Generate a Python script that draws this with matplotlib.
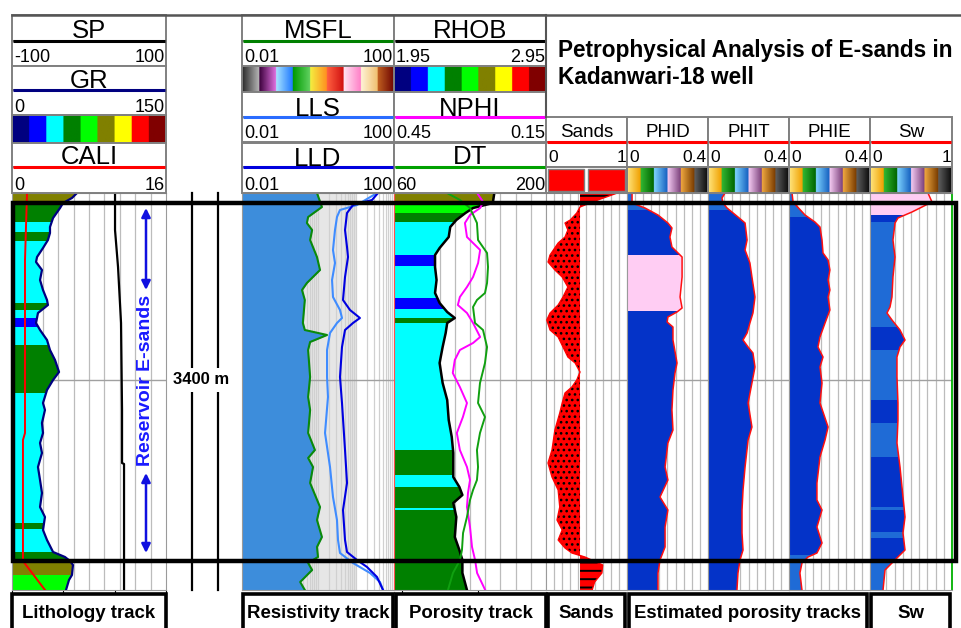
import numpy as np
import matplotlib.pyplot as plt
import matplotlib.transforms as mtransforms
from matplotlib.patches import Rectangle, Polygon
from matplotlib.colors import ListedColormap, LinearSegmentedColormap

plt.rcParams['font.family'] = ['Liberation Sans', 'DejaVu Sans']

W, H = 962, 628
TOP, BASE = 3381.3, 3421.0          # depth window of the log body (m)
RES_TOP, RES_BASE = 3382.3, 3418.1  # E-sands reservoir interval (m)
MARKER = 3400.0
SAND_CUT = 0.42

# ---------------- lithology track ----------------
gr_depth = [3381.3, 3381.8, 3382.3, 3382.8, 3383.8, 3384.7, 3385.3, 3386.0, 3386.8, 3387.7,
            3388.2, 3389.0, 3390.0, 3391.0, 3392.0, 3392.5, 3393.3, 3394.3, 3395.0, 3396.0,
            3397.0, 3398.0, 3399.2, 3400.0, 3401.0, 3402.3, 3403.0, 3404.3, 3405.3, 3406.3,
            3407.3, 3408.7, 3410.0, 3411.3, 3412.7, 3413.7, 3415.0, 3416.0, 3417.2, 3417.7,
            3418.1, 3418.5, 3419.5, 3420.0, 3421.0]
gr = [63.3, 58.4, 49.7, 46.8, 40.0, 37.0, 37.0, 35.0, 30.2, 24.4,
      23.4, 29.2, 27.3, 30.2, 34.1, 35.0, 25.3, 23.4, 27.3, 34.1,
      37.0, 41.9, 45.8, 40.0, 34.1, 30.2, 32.1, 29.2, 30.2, 27.3,
      29.2, 25.3, 27.3, 29.2, 27.3, 32.1, 30.2, 34.1, 40.0, 51.6,
      56.5, 59.4, 58.4, 55.5, 52.6]
sp_depth = [3381.3, 3385.0, 3388.7, 3394.3, 3403.0, 3408.3, 3408.4, 3421.0]
sp = [33.8, 33.8, 37.7, 41.6, 42.9, 42.9, 45.5, 45.5]
cali_depth = [3381.3, 3388.0, 3405.3, 3406.0, 3418.1, 3421.0]
cali = [1.56, 1.35, 1.35, 1.14, 1.14, 3.43]

# lithology bands, coded by the GR colour scale index
lith_top = [3381.3, 3382.3, 3384.2, 3385.2, 3386.1, 3392.3, 3393.0, 3393.8, 3394.7, 3396.5,
            3401.3, 3414.3, 3414.9, 3417.2, 3418.3, 3419.5]
lith_code = [5, 3, 2, 3, 2, 3, 2, 1, 2, 3, 2, 3, 2, 3, 5, 4]

# ---------------- resistivity track ----------------
msfl_depth = [3381.3, 3382.7, 3383.7, 3384.3, 3385.0, 3386.0, 3387.7, 3389.0, 3390.3, 3391.0,
              3392.0, 3394.3, 3395.0, 3395.5, 3396.2, 3397.0, 3399.7, 3401.7, 3403.0, 3405.3,
              3407.0, 3407.8, 3408.7, 3410.3, 3412.7, 3414.0, 3415.7, 3416.7, 3417.7, 3418.3,
              3419.0, 3420.2, 3421.0]
msfl = [0.94, 1.27, 0.55, 0.51, 0.70, 0.62, 0.94, 1.13, 0.51, 0.38,
        0.45, 0.40, 0.45, 1.73, 0.62, 0.55, 0.62, 0.55, 0.62, 0.55,
        0.83, 0.55, 0.74, 0.62, 1.13, 0.94, 1.27, 0.94, 1.00, 0.55,
        0.70, 0.34, 0.45]
lls_depth = [3381.3, 3382.5, 3383.0, 3383.7, 3385.0, 3387.0, 3388.3, 3390.0, 3391.7, 3393.0,
             3393.8, 3394.3, 3395.3, 3397.0, 3399.7, 3401.7, 3405.3, 3408.7, 3411.7, 3414.0,
             3416.0, 3417.3, 3418.3, 3419.3, 3420.2, 3421.0]
lls = [35.7, 10.6, 3.79, 3.16, 2.80, 2.48, 2.80, 2.34, 2.48, 3.79,
       4.28, 3.16, 2.07, 1.73, 1.73, 1.83, 1.53, 2.07, 2.48, 3.16,
       3.36, 3.79, 8.33, 23.4, 42.8, 51.4]
lld_depth = [3381.3, 3382.0, 3382.5, 3383.3, 3385.0, 3386.7, 3387.7, 3389.7, 3392.0, 3393.0,
             3393.8, 3394.3, 3395.0, 3396.7, 3399.7, 3402.3, 3407.0, 3410.3, 3413.0, 3416.0,
             3417.2, 3418.0, 3418.7, 3419.7, 3421.0]
lld = [38.0, 26.4, 8.33, 5.80, 5.14, 5.80, 6.16, 5.14, 4.55, 6.95,
       12.7, 8.33, 5.14, 4.28, 3.79, 4.28, 5.14, 5.80, 4.55, 5.14,
       5.80, 10.6, 19.5, 35.7, 51.4]

# ---------------- porosity track ----------------
rhob_depth = [3381.3, 3382.3, 3382.8, 3383.3, 3384.0, 3384.7, 3385.7, 3386.8, 3387.5, 3388.7,
              3390.0, 3391.3, 3392.3, 3393.2, 3393.8, 3394.3, 3395.3, 3396.7, 3398.3, 3400.3,
              3402.0, 3404.0, 3405.7, 3407.3, 3409.7, 3410.7, 3411.5, 3412.3, 3413.7, 3415.7,
              3417.0, 3418.0, 3419.3, 3421.0]
rhob = [2.61, 2.60, 2.47, 2.42, 2.36, 2.32, 2.31, 2.25, 2.22, 2.22,
        2.23, 2.22, 2.25, 2.30, 2.35, 2.30, 2.29, 2.27, 2.25, 2.27,
        2.30, 2.31, 2.33, 2.34, 2.34, 2.38, 2.40, 2.34, 2.36, 2.35,
        2.38, 2.40, 2.40, 2.43]
rhob_top = [3381.3, 3382.3, 3383.3, 3384.2, 3387.5, 3388.6, 3391.8, 3392.9, 3393.8, 3394.3,
            3407.0, 3409.5, 3410.7, 3412.8, 3413.0]
rhob_code = [5, 4, 3, 2, 1, 2, 1, 2, 3, 2, 3, 2, 3, 2, 3]
nphi_depth = [3381.3, 3382.2, 3382.8, 3383.5, 3384.3, 3385.7, 3386.3, 3387.0, 3388.3, 3389.7,
              3390.7, 3391.7, 3392.5, 3393.3, 3394.3, 3395.7, 3396.3, 3397.0, 3398.0, 3399.3,
              3400.7, 3402.3, 3403.7, 3405.3, 3407.0, 3408.7, 3410.0, 3411.3, 3412.7, 3414.7,
              3416.7, 3418.0, 3419.3, 3421.0]
nphi = [0.286, 0.274, 0.280, 0.300, 0.310, 0.306, 0.294, 0.280, 0.284, 0.294,
        0.306, 0.320, 0.324, 0.306, 0.294, 0.280, 0.294, 0.320, 0.330, 0.334,
        0.320, 0.306, 0.314, 0.326, 0.320, 0.306, 0.300, 0.304, 0.306, 0.300,
        0.296, 0.290, 0.286, 0.270]
dt_depth = [3381.3, 3382.0, 3382.8, 3384.3, 3386.0, 3387.3, 3388.7, 3390.3, 3391.3, 3392.0,
            3392.7, 3394.3, 3395.0, 3396.7, 3398.3, 3400.3, 3402.3, 3403.7, 3405.3, 3407.0,
            3408.7, 3410.0, 3411.0, 3412.0, 3413.7, 3415.3, 3417.0, 3418.0, 3419.3, 3421.0]
dt = [108.8, 120.8, 130.0, 136.4, 137.4, 145.7, 146.6, 145.7, 143.8, 136.4,
      132.8, 134.6, 142.0, 145.7, 143.8, 139.2, 137.4, 143.8, 139.2, 136.4,
      137.4, 136.4, 132.8, 130.0, 127.2, 123.6, 122.6, 120.8, 114.3, 109.7]

# ---------------- sands ----------------
sand_depth = [3381.3, 3382.0, 3382.5, 3382.7, 3383.3, 3384.0, 3384.3, 3385.0, 3385.7, 3386.3,
              3387.5, 3388.2, 3389.0, 3389.7, 3390.7, 3391.7, 3392.5, 3393.3, 3394.0, 3395.0,
              3395.7, 3396.7, 3397.7, 3398.3, 3399.2, 3400.0, 3400.7, 3401.3, 3402.3, 3403.3,
              3405.0, 3407.0, 3408.3, 3409.7, 3411.0, 3412.7, 3414.0, 3415.0, 3416.0, 3416.8,
              3417.3, 3417.7, 3418.5, 3419.3, 3420.2, 3421.0]
sand = [0.88, 0.64, 0.48, 0.42, 0.38, 0.30, 0.235, 0.27, 0.235, 0.15,
        0.05, 0.025, 0.11, 0.20, 0.27, 0.21, 0.15, 0.05, 0.01, 0.05,
        0.15, 0.21, 0.27, 0.36, 0.42, 0.38, 0.32, 0.235, 0.20, 0.17,
        0.11, 0.074, 0.025, 0.074, 0.15, 0.17, 0.136, 0.20, 0.15, 0.235,
        0.32, 0.48, 0.70, 0.69, 0.60, 0.57]

# ---------------- estimated porosity / saturation ----------------
phid_depth = [3381.3, 3382.3, 3382.8, 3383.5, 3384.3, 3384.8, 3385.7, 3386.7, 3387.7, 3389.7,
              3391.7, 3392.8, 3393.2, 3393.7, 3394.2, 3394.7, 3396.0, 3398.3, 3399.3, 3401.0,
              3403.0, 3405.0, 3406.3, 3408.7, 3410.0, 3411.7, 3413.0, 3414.7, 3416.7, 3418.0,
              3419.3, 3421.0]
phid = [0.025, 0.025, 0.089, 0.153, 0.202, 0.222, 0.212, 0.222, 0.272, 0.272,
        0.262, 0.272, 0.247, 0.202, 0.198, 0.227, 0.227, 0.247, 0.237, 0.227,
        0.222, 0.227, 0.202, 0.188, 0.202, 0.163, 0.202, 0.188, 0.188, 0.163,
        0.153, 0.153]
phid_top = [3381.3, 3383.0, 3387.5, 3393.1]
phid_zone = ['light', 'dark', 'pink', 'dark']

phit_depth = [3381.3, 3381.8, 3382.3, 3382.8, 3383.7, 3384.3, 3386.0, 3387.0, 3388.3, 3389.7,
              3391.7, 3393.3, 3394.3, 3395.3, 3396.0, 3396.7, 3397.3, 3398.7, 3400.3, 3402.3,
              3404.7, 3406.0, 3408.7, 3411.0, 3413.0, 3415.3, 3417.0, 3418.0, 3419.3, 3421.0]
phit = [0.084, 0.069, 0.074, 0.094, 0.148, 0.183, 0.193, 0.183, 0.207, 0.217,
        0.232, 0.222, 0.207, 0.193, 0.173, 0.198, 0.222, 0.232, 0.217, 0.198,
        0.217, 0.198, 0.183, 0.173, 0.168, 0.168, 0.173, 0.158, 0.148, 0.143]
phit_top = [3381.3, 3383.0]
phit_zone = ['light', 'dark']

phie_depth = [3381.3, 3382.2, 3383.5, 3384.2, 3384.7, 3386.0, 3387.3, 3388.0, 3389.0, 3390.0,
              3391.0, 3391.7, 3393.0, 3394.3, 3395.7, 3396.7, 3397.7, 3398.7, 3400.3, 3402.3,
              3404.7, 3406.0, 3407.7, 3410.3, 3412.0, 3413.0, 3414.7, 3416.3, 3417.3, 3417.7,
              3418.3, 3419.3, 3421.0]
phie = [0.015, 0.020, 0.079, 0.128, 0.153, 0.163, 0.168, 0.193, 0.202, 0.193,
        0.202, 0.193, 0.202, 0.178, 0.153, 0.143, 0.168, 0.153, 0.163, 0.153,
        0.193, 0.178, 0.153, 0.138, 0.138, 0.163, 0.138, 0.163, 0.138, 0.094,
        0.064, 0.054, 0.064]
phie_top = [3381.3, 3383.7, 3417.5]
phie_zone = ['light', 'dark', 'light']

sw_depth = [3381.3, 3382.2, 3383.2, 3383.8, 3384.3, 3386.0, 3387.7, 3389.7, 3391.7, 3392.7,
            3393.3, 3394.0, 3395.0, 3396.0, 3396.7, 3397.7, 3399.7, 3402.3, 3404.0, 3406.3,
            3408.7, 3410.7, 3413.7, 3415.3, 3417.0, 3417.7, 3418.3, 3419.0, 3421.0]
sw = [0.707, 0.756, 0.512, 0.341, 0.305, 0.280, 0.305, 0.280, 0.268, 0.244,
      0.207, 0.268, 0.366, 0.427, 0.366, 0.329, 0.329, 0.341, 0.341, 0.329,
      0.366, 0.390, 0.427, 0.402, 0.427, 0.341, 0.268, 0.183, 0.159]
sw_top = [3381.3, 3383.5, 3384.2, 3394.7, 3397.0, 3402.0, 3404.3, 3407.7, 3412.7, 3413.0,
          3415.2, 3415.8, 3418.0]
sw_zone = ['pink', 'dark', 'light', 'dark', 'light', 'dark', 'light', 'dark', 'light', 'dark',
           'light', 'dark', 'light']

# colours
PALETTE = ['#000080', '#0000ff', '#00ffff', '#008000', '#00ff00',
           '#808000', '#ffff00', '#ff0000', '#800000']
ZONE = {'dark': '#0433c8', 'light': '#1f6bd6', 'pink': '#ffcdf3'}
GRID = '#bcbcbc'

fig = plt.figure(figsize=(W / 100, H / 100), dpi=100)


def frame(x0, y0, x1, y1):
    return [x0 / W, 1 - y1 / H, (x1 - x0) / W, (y1 - y0) / H]


def track(x0, x1, lo, hi, log=False):
    ax = fig.add_axes(frame(x0, 193, x1, 590))
    if log:
        ax.set_xscale('log')
    ax.set_xlim(lo, hi)
    ax.set_ylim(BASE, TOP)
    ax.tick_params(which='both', bottom=False, left=False, top=False, right=False,
                   labelbottom=False, labelleft=False)
    for s in ax.spines.values():
        s.set_color('#9a9a9a')
        s.set_linewidth(0.8)
    if log:
        grid = [m * 10.0 ** e for e in range(-2, 2) for m in range(1, 10)][1:]
        gcol = '#d0d0d0'
    else:
        grid = np.linspace(lo, hi, 11)[1:-1]
        gcol = GRID
    for g in grid:
        ax.axvline(g, color=gcol, lw=0.9, zorder=0.8)
    ax.axhline(MARKER, color='#a0a0a0', lw=1.0, zorder=0.8)
    return ax


def twin(ax, lo, hi):
    t = ax.twiny()
    t.set_xlim(lo, hi)
    t.set_ylim(BASE, TOP)
    t.axis('off')
    return t


def zone_fill(ax, depth, values, base, tops, colors):
    depth = np.asarray(depth, float)
    values = np.asarray(values, float)
    xs = np.r_[base, values, base]
    ys = np.r_[depth[0], depth, depth[-1]]
    clip = Polygon(np.column_stack([xs, ys]), closed=True, transform=ax.transData)
    bases = list(tops[1:]) + [BASE]
    for t, b, c in zip(tops, bases, colors):
        band = ax.axhspan(t, b, facecolor=c, edgecolor='none', zorder=1)
        band.set_clip_path(clip)


# lithology
ax_lith = track(12, 166, 0, 150)
zone_fill(ax_lith, gr_depth, gr, 0, lith_top, [PALETTE[c] for c in lith_code])
ax_lith.plot(gr, gr_depth, color='#000080', lw=1.6, zorder=3)
twin(ax_lith, -100, 100).plot(sp, sp_depth, color='black', lw=1.6)
twin(ax_lith, 0, 16).plot(cali, cali_depth, color='red', lw=1.4)

# resistivity
ax_res = track(242, 394, 0.01, 100, log=True)
ax_res.fill_betweenx(msfl_depth, msfl, 10, color='#e6e6e6', lw=0, zorder=0.5)
ax_res.fill_betweenx(msfl_depth, 0.01, msfl, color='#3d8ddb', lw=0, zorder=2)
ax_res.plot(msfl, msfl_depth, color='#0a8a0a', lw=1.5, zorder=3)
ax_res.plot(lls, lls_depth, color='#3f8cff', lw=1.5, zorder=3)
ax_res.plot(lld, lld_depth, color='#0000e0', lw=1.5, zorder=3)

# porosity
ax_por = track(394, 546, 1.95, 2.95)
ax_por.spines['left'].set_color('#ff5050')
zone_fill(ax_por, rhob_depth, rhob, 1.95, rhob_top, [PALETTE[c] for c in rhob_code])
ax_por.plot(rhob, rhob_depth, color='black', lw=1.8, zorder=3)
twin(ax_por, 0.45, 0.15).plot(nphi, nphi_depth, color='#ff00ff', lw=1.4)
twin(ax_por, 60, 200).plot(dt, dt_depth, color='#10a010', lw=1.4)

# sands: dotted where below the cut-off, dashed (shaly) above it
ax_sand = track(546, 627, 0, 1)
sd, sv = np.asarray(sand_depth), np.asarray(sand)
with plt.rc_context({'hatch.linewidth': 1.1}):
    ax_sand.fill_betweenx(sd, sv, SAND_CUT, where=sv <= SAND_CUT, interpolate=True,
                          facecolor='#ff0000', edgecolor='black', lw=0, hatch='...',
                          zorder=2)
with plt.rc_context({'hatch.linewidth': 1.4}):
    ax_sand.fill_betweenx(sd, SAND_CUT, sv, where=sv >= SAND_CUT, interpolate=True,
                          facecolor='#ff0000', edgecolor='black', lw=0, hatch='--', zorder=2)
ax_sand.plot(sv, sd, color='red', lw=1.0, zorder=3)

# estimated porosity and water saturation
for x0, x1, hi, d, v, tops, zones in [
        (627, 708, 0.4, phid_depth, phid, phid_top, phid_zone),
        (708, 789, 0.4, phit_depth, phit, phit_top, phit_zone),
        (789, 870, 0.4, phie_depth, phie, phie_top, phie_zone),
        (870, 952, 1.0, sw_depth, sw, sw_top, sw_zone)]:
    ax = track(x0, x1, 0, hi)
    zone_fill(ax, d, v, 0, tops, [ZONE[z] for z in zones])
    ax.plot(v, d, color='#ff1010', lw=1.1, zorder=3)
ax.spines['right'].set_color('#00b000')
ax.spines['right'].set_linewidth(1.3)

# ---------------- headers and annotations ----------------
hdr = fig.add_axes([0, 0, 1, 1])
hdr.set_zorder(10)
hdr.axis('off')


def cell(x0, y0, x1, y1, title=None, size=18.5, under=None, left=None, right=None,
         nsize=13, drop=2.5):
    hdr.add_patch(Rectangle((x0, y0), x1 - x0, y1 - y0, facecolor='white',
                            edgecolor='#808080', lw=1.4))
    if under:
        hdr.plot([x0 + 1, x1 - 1], [y1, y1], color=under, lw=2.2, solid_capstyle='butt')
    if title:
        hdr.text((x0 + x1) / 2, y1 - drop, title, ha='center', va='baseline', fontsize=size)
    if left is not None:
        hdr.text(x0 + 2, y1 - drop, left, ha='left', va='baseline', fontsize=nsize)
        hdr.text(x1 - 1, y1 - drop, right, ha='right', va='baseline', fontsize=nsize)


def blocks(pairs):
    n = len(pairs)
    stops = []
    for i, (a, b) in enumerate(pairs):
        stops.append((i / n, a))
        stops.append(((i + 1) / n - (1e-3 if i < n - 1 else 0), b))
    return LinearSegmentedColormap.from_list('strip', stops)


def strip(x0, y0, x1, y1, cmap):
    cax = fig.add_axes(frame(x0, y0, x1, y1))
    cax.imshow(np.linspace(0, 1, 512)[None, :], aspect='auto', cmap=cmap)
    cax.set_axis_off()
    hdr.add_patch(Rectangle((x0, y0), x1 - x0, y1 - y0, fill=False,
                            edgecolor='#808080', lw=1.4))


gr_cmap = ListedColormap(PALETTE)
msfl_cmap = blocks([('#2a2a2a', '#b4b4b4'), ('#3a003a', '#e070e0'), ('#a8e4ff', '#1e78ff'),
                    ('#009a00', '#60d060'), ('#f4f040', '#ff9020'), ('#ff6040', '#d01010'),
                    ('#ffe4f2', '#ff80c8'), ('#fff4d8', '#f0c070'), ('#c06020', '#6a0000')])
phi_cmap = blocks([('#ffe680', '#f0a000'), ('#33b833', '#006400'), ('#7fd4ff', '#1560c0'),
                   ('#f6cdf4', '#7a3f7a'), ('#f0a840', '#7a3c00'), ('#606060', '#0a0a0a')])

# lithology header
cell(12, 15, 166, 41, 'SP', under='black')
cell(12, 41, 166, 66, left='-100', right='100', drop=3.5)
cell(12, 66, 166, 90, 'GR', under='#000080')
cell(12, 90, 166, 115, left='0', right='150', drop=3.5)
strip(12, 115, 166, 143, gr_cmap)
cell(12, 143, 166, 167, 'CALI', under='red')
cell(12, 167, 166, 193, left='0', right='16', drop=3.5)

# resistivity header
cell(242, 15, 394, 41, 'MSFL', under='#008000')
cell(242, 41, 394, 66, left='0.01', right='100', drop=3.5)
strip(242, 66, 394, 92, msfl_cmap)
cell(242, 92, 394, 117, 'LLS', under='#2a6cff', drop=1)
cell(242, 117, 394, 142, left='0.01', right='100', drop=3.5)
cell(242, 143, 394, 167, 'LLD', under='#0000dd', drop=1)
cell(242, 167, 394, 193, left='0.01', right='100', drop=3.5)

# porosity header
cell(394, 15, 546, 41, 'RHOB', under='black')
cell(394, 41, 546, 66, left='1.95', right='2.95', drop=3.5)
strip(394, 66, 546, 92, gr_cmap)
cell(394, 92, 546, 117, 'NPHI', under='#ff00ff', drop=1.5)
cell(394, 117, 546, 142, left='0.45', right='0.15', drop=3.5)
cell(394, 143, 546, 167, 'DT', under='#00a000')
cell(394, 167, 546, 193, left='60', right='200', drop=3.5)

# sands, porosity estimates and Sw headers
edges = [546, 627, 708, 789, 870, 952]
names = ['Sands', 'PHID', 'PHIT', 'PHIE', 'Sw']
scale_hi = ['1', '0.4', '0.4', '0.4', '1']
for x0, x1, name, hi in zip(edges[:-1], edges[1:], names, scale_hi):
    cell(x0, 117, x1, 142, name, size=13.5, under='red', drop=5)
    cell(x0, 142, x1, 167, left='0', right=hi, nsize=12.5, drop=5)
    if name == 'Sands':
        hdr.add_patch(Rectangle((x0, 167), x1 - x0, 26, facecolor='white',
                                edgecolor='#808080', lw=1.4))
        hdr.add_patch(Rectangle((x0 + 2, 169), 36, 22, facecolor='#ff0000', edgecolor='#808080'))
        hdr.add_patch(Rectangle((x0 + 42, 169), 37, 22, facecolor='#ff0000', edgecolor='#808080'))
    else:
        strip(x0, 167, x1, 193, phi_cmap)

hdr.plot([12, 962], [15, 15], color='#555555', lw=1.8)
hdr.plot([546, 546], [15, 117], color='#555555', lw=1.5)

hdr.text(558, 50, 'Petrophysical Analysis of E-sands in', fontsize=16.3, fontweight='bold',
         ha='left', va='center')
hdr.text(558, 78, 'Kadanwari-18 well', fontsize=16.3, fontweight='bold', ha='left',
         va='center')

# depth-referenced annotations
dtrans = mtransforms.blended_transform_factory(hdr.transData, ax_lith.transData)
for x in (192, 218):
    hdr.plot([x, x], [TOP, BASE], transform=dtrans, color='black', lw=1.6)
hdr.text(201, MARKER, '3400 m', transform=dtrans, ha='center', va='center', fontsize=12,
         fontweight='bold', bbox=dict(facecolor='white', edgecolor='none', pad=3))
hdr.add_patch(Rectangle((13, RES_TOP), 943, RES_BASE - RES_TOP, transform=dtrans,
                        fill=False, edgecolor='black', lw=3.2))
for a, b in [(3382.8, 3391.0), (3409.3, 3417.3)]:
    hdr.annotate('', xy=(146, a), xytext=(146, b), xycoords=dtrans, textcoords=dtrans,
                 arrowprops=dict(arrowstyle='<|-|>', color='#1010e0', lw=1.8,
                                 mutation_scale=13, shrinkA=0, shrinkB=0))
hdr.text(146, MARKER, 'Reservoir E-sands', transform=dtrans, rotation=90, ha='center',
         va='center', fontsize=14, fontweight='bold', color='#1a1aff')

# track captions
for x0, x1, s in [(12, 166, 'Lithology track'), (243, 393, 'Resistivity track'),
                  (396, 546, 'Porosity track'), (548, 625, 'Sands'),
                  (629, 867, 'Estimated porosity tracks'), (871, 950, 'Sw')]:
    hdr.add_patch(Rectangle((x0, 594), x1 - x0, 40, facecolor='white', edgecolor='black', lw=2.6))
    hdr.text((x0 + x1) / 2, 613, s, ha='center', va='center', fontsize=13.4, fontweight='bold')

hdr.set_xlim(0, W)
hdr.set_ylim(H, 0)

fig.savefig('out.png', dpi=100)
